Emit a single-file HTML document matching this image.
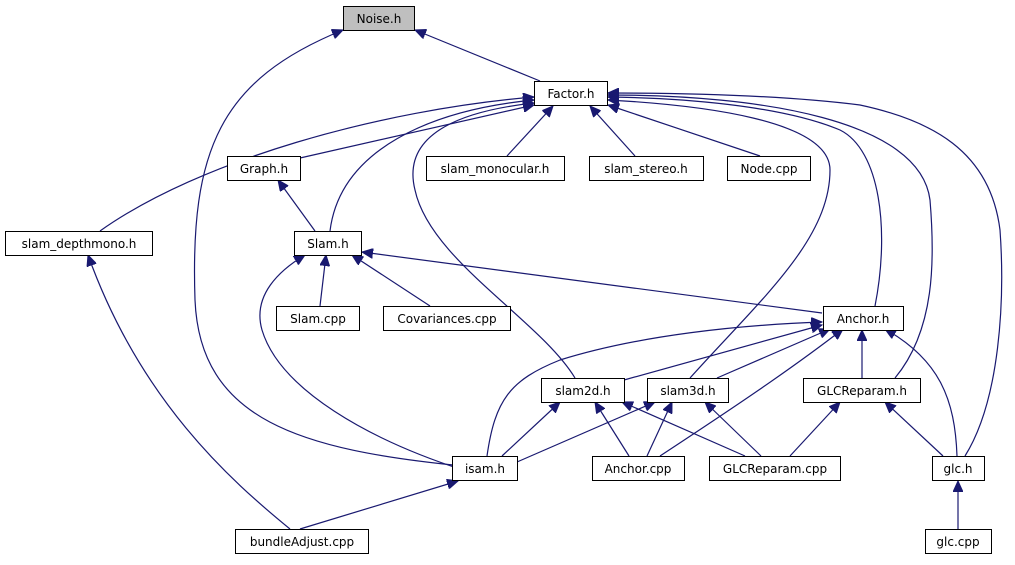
<!DOCTYPE html>
<html><head><meta charset="utf-8"><style>
body{margin:0;background:#fff;width:1015px;height:560px;overflow:hidden}
text{font-family:"DejaVu Sans","Liberation Sans",sans-serif;font-size:12px;text-anchor:middle;fill:#000}
rect{fill:#fff;stroke:#000;stroke-width:1}
path{fill:none;stroke:#191970;stroke-width:1.2}
</style></head><body>
<svg width="1015" height="560" viewBox="0 0 1015 560" xmlns="http://www.w3.org/2000/svg">
<defs><marker id="a" markerWidth="12" markerHeight="10" refX="11" refY="5" orient="auto" markerUnits="userSpaceOnUse"><path d="M0,0 L11,5 L0,10 Z" style="fill:#191970;stroke:#191970;stroke-width:1"/></marker></defs>
<g marker-end="url(#a)">
<path d="M540,81 L415,30"/>
<path d="M463,466 C300,450 200,420 195,300 C190,150 220,80 343,30"/>
<path d="M300,158 L534,105"/>
<path d="M100,231 C200,160 380,110 534,97"/>
<path d="M330,231 C340,150 430,110 534,100"/>
<path d="M575,378 C540,320 430,260 415,190 C400,130 470,110 534,103"/>
<path d="M507,156 L553,106"/>
<path d="M635,156 L590,106"/>
<path d="M760,156 L608,105"/>
<path d="M690,378 C760,300 830,240 830,170 C830,120 700,105 608,100"/>
<path d="M875,306 C890,230 880,150 840,130 C780,105 680,98 608,97"/>
<path d="M895,378 C935,330 935,260 930,200 C920,120 760,95 608,95"/>
<path d="M965,456 C1000,400 1005,300 1000,230 C990,150 930,120 860,105 C780,95 680,93 608,93"/>
<path d="M315,231 L278,180"/>
<path d="M320,306 L326,255"/>
<path d="M430,306 L352,255"/>
<path d="M822,313 L362,252"/>
<path d="M463,470 C370,440 280,390 262,330 C252,295 280,270 305,255"/>
<path d="M290,529 C230,480 140,400 88,255"/>
<path d="M624,380 L822,325"/>
<path d="M717,378 L830,329"/>
<path d="M487,456 C495,400 510,380 560,360 C640,335 740,325 822,322"/>
<path d="M660,456 C730,410 790,370 843,329"/>
<path d="M862,378 L862,330"/>
<path d="M957,456 C955,400 940,360 885,329"/>
<path d="M502,456 L560,402"/>
<path d="M629,456 L595,402"/>
<path d="M745,456 L622,402"/>
<path d="M517,462 L655,402"/>
<path d="M647,456 L672,402"/>
<path d="M761,456 L705,402"/>
<path d="M790,456 L840,402"/>
<path d="M943,456 L885,402"/>
<path d="M300,529 L458,481"/>
<path d="M958,529 L958,481"/>
</g>
<rect x="343.5" y="6.5" width="71" height="24" style="fill:#bfbfbf"/><text x="379" y="23">Noise.h</text>
<rect x="534.5" y="81.5" width="73" height="24"/><text x="571" y="98">Factor.h</text>
<rect x="227.5" y="156.5" width="73" height="24"/><text x="264" y="173">Graph.h</text>
<rect x="426.5" y="156.5" width="138" height="24"/><text x="495" y="173">slam_monocular.h</text>
<rect x="589.5" y="156.5" width="114" height="24"/><text x="646" y="173">slam_stereo.h</text>
<rect x="727.5" y="156.5" width="83" height="24"/><text x="769" y="173">Node.cpp</text>
<rect x="5.5" y="231.5" width="147" height="24"/><text x="79" y="248">slam_depthmono.h</text>
<rect x="294.5" y="231.5" width="67" height="24"/><text x="328" y="248">Slam.h</text>
<rect x="276.5" y="306.5" width="83" height="24"/><text x="318" y="323">Slam.cpp</text>
<rect x="383.5" y="306.5" width="127" height="24"/><text x="447" y="323">Covariances.cpp</text>
<rect x="823.5" y="306.5" width="80" height="24"/><text x="863" y="323">Anchor.h</text>
<rect x="541.5" y="378.5" width="83" height="24"/><text x="583" y="395">slam2d.h</text>
<rect x="647.5" y="378.5" width="81" height="24"/><text x="688" y="395">slam3d.h</text>
<rect x="803.5" y="378.5" width="117" height="24"/><text x="862" y="395">GLCReparam.h</text>
<rect x="452.5" y="456.5" width="65" height="24"/><text x="485" y="473">isam.h</text>
<rect x="592.5" y="456.5" width="92" height="24"/><text x="638" y="473">Anchor.cpp</text>
<rect x="709.5" y="456.5" width="131" height="24"/><text x="775" y="473">GLCReparam.cpp</text>
<rect x="932.5" y="456.5" width="52" height="24"/><text x="958" y="473">glc.h</text>
<rect x="235.5" y="529.5" width="133" height="24"/><text x="302" y="546">bundleAdjust.cpp</text>
<rect x="925.5" y="529.5" width="66" height="24"/><text x="958" y="546">glc.cpp</text>
</svg>
</body></html>
